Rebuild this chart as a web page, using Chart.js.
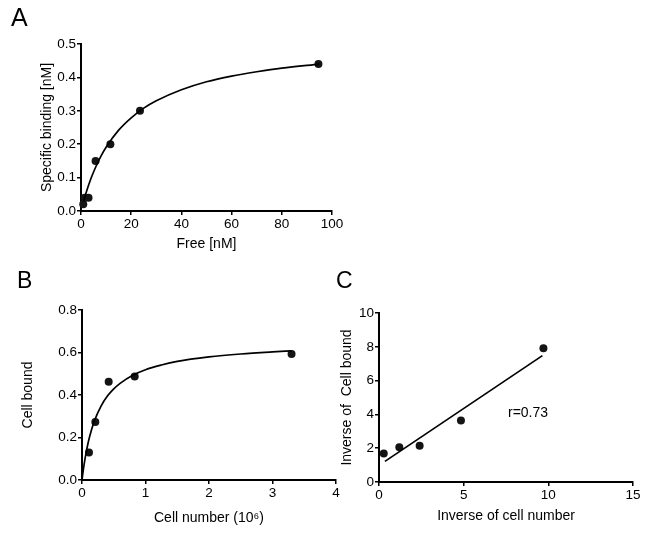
<!DOCTYPE html>
<html><head><meta charset="utf-8">
<script src="https://cdn.jsdelivr.net/npm/chart.js@4/dist/chart.umd.min.js"></script>
<style>
html,body{margin:0;padding:0;background:#fff;}
#wrap{position:relative;width:650px;height:534px;overflow:hidden;background:#fff;}
canvas{position:absolute;left:0;top:0;}
.lbl{position:absolute;font-family:'Liberation Sans',Arial,sans-serif;color:#000;line-height:1;}
</style></head><body>
<div id="wrap">
<canvas id="cA" width="650" height="534"></canvas>
<canvas id="cB" width="650" height="534"></canvas>
<canvas id="cC" width="650" height="534"></canvas>
<div class="lbl" style="left:11px;top:5px;font-size:25px">A</div>
<div class="lbl" style="left:17px;top:269px;font-size:23px">B</div>
<div class="lbl" style="left:336px;top:269px;font-size:23px">C</div>
</div>
<script>
// ---- Panel A: saturation binding ----
const A_free    = [0.9, 1.5, 3.0, 5.8, 11.7, 23.5, 94.6];
const A_bound   = [0.02, 0.04, 0.04, 0.15, 0.20, 0.30, 0.44];
const A_fitX    = [1, 2, 4, 6, 8, 10, 15, 20, 25, 30, 40, 50, 60, 70, 80, 95];
const A_fitY    = [0.028, 0.054, 0.098, 0.134, 0.165, 0.191, 0.242, 0.279, 0.308, 0.330, 0.363, 0.387, 0.404, 0.417, 0.428, 0.440];
const A_xTicks  = [0, 20, 40, 60, 80, 100];
const A_xLabels = ['0', '20', '40', '60', '80', '100'];
const A_yTicks  = [0, 0.1, 0.2, 0.3, 0.4, 0.5];
const A_yLabels = ['0.0', '0.1', '0.2', '0.3', '0.4', '0.5'];

// ---- Panel B: cell bound vs cell number ----
const B_cells   = [0.11, 0.21, 0.42, 0.83, 3.30];
const B_bound   = [0.129, 0.273, 0.462, 0.487, 0.593];
const B_fitX    = [0, 0.02, 0.05, 0.1, 0.15, 0.2, 0.3, 0.4, 0.5, 0.6, 0.8, 1.0, 1.25, 1.5, 2.0, 2.5, 3.0, 3.3];
const B_fitY    = [0, 0.046, 0.104, 0.180, 0.237, 0.282, 0.348, 0.395, 0.429, 0.455, 0.493, 0.519, 0.541, 0.558, 0.579, 0.593, 0.603, 0.608];
const B_xTicks  = [0, 1, 2, 3, 4];
const B_xLabels = ['0', '1', '2', '3', '4'];
const B_yTicks  = [0, 0.2, 0.4, 0.6, 0.8];
const B_yLabels = ['0.0', '0.2', '0.4', '0.6', '0.8'];

// ---- Panel C: double reciprocal ----
const C_invCells = [0.28, 1.2, 2.4, 4.84, 9.71];
const C_invBound = [1.69, 2.05, 2.15, 3.64, 7.91];
const C_lineX    = [0.35, 9.65];
const C_lineY    = [1.22, 7.48];
const C_xTicks   = [0, 5, 10, 15];
const C_xLabels  = ['0', '5', '10', '15'];
const C_yTicks   = [0, 2, 4, 6, 8, 10];
const C_yLabels  = ['0', '2', '4', '6', '8', '10'];
const C_note     = 'r=0.73';
const C_noteAt   = [8.8, 4.1];

const FONT = "'Liberation Sans', Arial, sans-serif";
const TICK_FS = 13.5, TITLE_FS = 14;
const HALF_LH = TITLE_FS * 1.2 / 2;

function pts(xs, ys) { return xs.map((x, i) => ({x: x, y: ys[i]})); }

const notePlugin = {
  id: 'note',
  afterDatasetsDraw(chart, args, opts) {
    if (!opts || !opts.text) return;
    const ctx = chart.ctx;
    const x = chart.scales.x.getPixelForValue(opts.at[0]);
    const y = chart.scales.y.getPixelForValue(opts.at[1]);
    ctx.save();
    ctx.font = TITLE_FS + 'px ' + FONT;
    ctx.fillStyle = '#000';
    ctx.textAlign = 'center';
    ctx.textBaseline = 'middle';
    ctx.fillText(opts.text, x, y);
    ctx.restore();
  }
};

function axis(min, max, ticks, labels, title, isX, size) {
  return {
    type: 'linear', min: min, max: max,
    afterBuildTicks: s => { s.ticks = ticks.map(v => ({value: v})); },
    afterFit: s => {
      if (isX) { s.height = size; s.paddingLeft = 0; s.paddingRight = 0; }
      else { s.width = size; s.paddingTop = 0; s.paddingBottom = 0; }
    },
    grid: {drawOnChartArea: false, drawTicks: true, tickLength: 4, color: '#000', lineWidth: 1.5},
    border: {display: true, color: '#000', width: 2},
    ticks: {padding: 1, color: '#000', font: {family: FONT, size: TICK_FS}, autoSkip: false, maxRotation: 0,
            callback: (v, i) => labels[i]},
    title: {display: true, text: title, color: '#000', font: {family: FONT, size: TITLE_FS}, padding: 0}
  };
}

function makePanel(id, p) {
  const padLeft = p.yTitleX - HALF_LH;
  const yWidth = p.area.l - padLeft;
  const xHeight = p.xTitleY + HALF_LH - p.area.b;
  const padBottom = 534 - p.area.b - xHeight;
  const datasets = [
    {data: p.fit, showLine: true, pointRadius: 0, borderColor: '#000', borderWidth: 1.7,
     cubicInterpolationMode: p.straight ? 'default' : 'monotone', tension: 0, fill: false, clip: false},
    {data: p.pts, showLine: false, pointRadius: 4, backgroundColor: '#141414', borderColor: '#141414',
     borderWidth: 0, clip: false}
  ];
  return new Chart(document.getElementById(id), {
    type: 'scatter',
    data: {datasets: datasets},
    plugins: [notePlugin],
    options: {
      responsive: false, animation: false, devicePixelRatio: 1,
      layout: {padding: {left: padLeft, top: p.area.t, right: 650 - p.area.r, bottom: padBottom}},
      plugins: {legend: {display: false}, tooltip: {enabled: false}, note: p.note || {}},
      scales: {
        x: axis(p.x[0], p.x[1], p.xTicks, p.xLabels, p.xTitle, true, xHeight),
        y: axis(p.y[0], p.y[1], p.yTicks, p.yLabels, p.yTitle, false, yWidth)
      }
    }
  });
}

makePanel('cA', {
  area: {l: 81, r: 332, t: 44, b: 211}, yTitleX: 46.7, xTitleY: 244,
  x: [0, 100], y: [0, 0.5], xTicks: A_xTicks, xLabels: A_xLabels, yTicks: A_yTicks, yLabels: A_yLabels,
  xTitle: 'Free [nM]', yTitle: 'Specific binding [nM]',
  fit: pts(A_fitX, A_fitY), pts: pts(A_free, A_bound)
});
makePanel('cB', {
  area: {l: 82, r: 336, t: 310, b: 480}, yTitleX: 28.3, xTitleY: 518,
  x: [0, 4], y: [0, 0.8], xTicks: B_xTicks, xLabels: B_xLabels, yTicks: B_yTicks, yLabels: B_yLabels,
  xTitle: 'Cell number (10\u2076)', yTitle: 'Cell bound',
  fit: pts(B_fitX, B_fitY), pts: pts(B_cells, B_bound)
});
makePanel('cC', {
  area: {l: 379, r: 633, t: 313, b: 482}, yTitleX: 347, xTitleY: 516,
  x: [0, 15], y: [0, 10], xTicks: C_xTicks, xLabels: C_xLabels, yTicks: C_yTicks, yLabels: C_yLabels,
  xTitle: 'Inverse of cell number', yTitle: 'Inverse of  Cell bound', straight: true,
  fit: pts(C_lineX, C_lineY), pts: pts(C_invCells, C_invBound),
  note: {text: C_note, at: C_noteAt}
});
</script>
</body></html>
